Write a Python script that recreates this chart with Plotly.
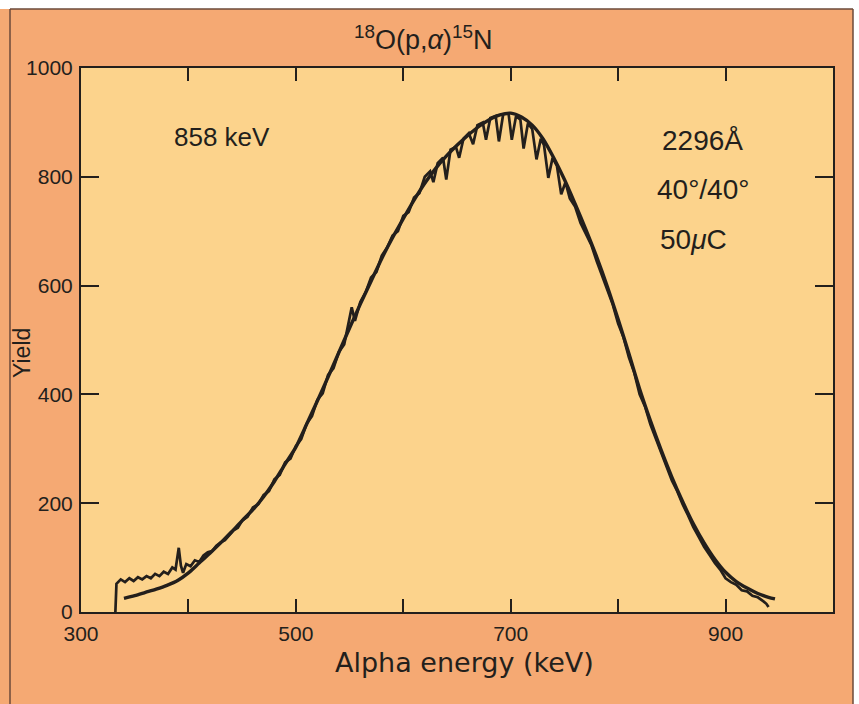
import plotly.graph_objects as go

# ---------------- data ----------------
fit_energy = [340, 350, 360, 370, 380, 390, 400, 410, 420, 430, 440, 450, 460, 470, 480,
              490, 500, 510, 520, 530, 540, 550, 560, 570, 580, 590, 600, 610, 620, 630,
              640, 650, 660, 670, 680, 690, 700, 710, 720, 730, 740, 750, 760, 770, 780,
              790, 800, 810, 820, 830, 840, 850, 860, 870, 880, 890, 900, 910, 920, 930,
              940, 946]
fit_yield = [25, 30, 36, 42, 49, 58, 72, 90, 108, 127, 147, 168, 188, 212, 240,
             272, 303, 345, 388, 432, 477, 522, 566, 608, 650, 688, 723, 757, 788, 815,
             838, 858, 876, 892, 905, 914, 917, 910, 895, 870, 835, 795, 750, 703, 653,
             598, 538, 475, 410, 352, 298, 248, 203, 162, 127, 97, 73, 56, 44, 34,
             27, 24]

data_energy = [332, 333, 337, 341, 345, 349, 353, 357, 361, 365, 369, 373, 377, 381, 385,
               388, 391, 393, 395, 398, 402, 406, 410, 414, 418, 422, 426, 430, 434, 438,
               442, 446, 450, 455, 460, 465, 470, 475, 480, 485, 490, 495, 500, 505, 510,
               515, 520, 525, 530, 535, 540, 545, 550, 552, 555, 560, 565, 570, 575, 580,
               585, 590, 595, 600, 605, 610, 615, 620, 625, 628, 632, 637, 640, 644, 649,
               652, 656, 661, 665, 669, 674, 677, 681, 686, 689, 693, 698, 701, 705, 709,
               712, 716, 720, 724, 728, 731, 735, 739, 743, 747, 751, 755, 760,
               765, 770, 775, 780, 785, 790, 795, 800, 805, 810, 815, 820, 825, 830, 835,
               840, 845, 850, 855, 860, 865, 870, 875, 880, 885, 890, 895, 900, 905, 910,
               915, 920, 925, 930, 935, 938, 940]
data_yield = [0, 52, 60, 55, 62, 57, 64, 60, 66, 62, 70, 66, 74, 70, 82,
              78, 118, 85, 72, 88, 84, 95, 92, 104, 110, 112, 122, 128, 132, 142,
              150, 155, 168, 175, 192, 198, 215, 222, 244, 252, 275, 282, 305, 318, 346,
              360, 390, 402, 436, 448, 478, 492, 540, 560, 535, 570, 588, 615, 625, 655,
              670, 692, 700, 728, 735, 762, 770, 800, 810, 790, 825, 835, 795, 850, 855,
              835, 870, 880, 860, 895, 900, 868, 908, 912, 865, 915, 916, 868, 912, 905,
              852, 898, 888, 832, 870, 858, 798, 835, 820, 768, 790, 760, 745,
              715, 695, 675, 645, 618, 590, 565, 530, 505, 468, 440, 400, 378, 345, 320,
              292, 268, 242, 222, 198, 178, 156, 138, 120, 105, 90, 78, 62, 55, 50,
              40, 38, 30, 27, 20, 15, 9]

x_tickvals = [300, 400, 500, 600, 700, 800, 900, 1000]
x_ticktext = ["300", "", "500", "", "700", "", "900", ""]
y_tickvals = [0, 200, 400, 600, 800, 1000]
y_ticktext = ["0", "200", "400", "600", "800", "1000"]

# ---------------- style ----------------
INK = "#231f1c"
PLOT_BG = "#fcd38c"
OUTER_BG = "#f5a973"
FONT = "Liberation Sans, Arial, Helvetica, sans-serif"

fig = go.Figure()
fig.add_trace(go.Scatter(x=data_energy, y=data_yield, mode="lines",
                         line=dict(color=INK, width=2.7), hoverinfo="skip",
                         showlegend=False))
fig.add_trace(go.Scatter(x=fit_energy, y=fit_yield, mode="lines",
                         line=dict(color=INK, width=3.4, shape="spline", smoothing=0.8),
                         hoverinfo="skip", showlegend=False))

axis_common = dict(showline=True, linecolor=INK, linewidth=2, mirror="ticks",
                   ticks="inside", tickcolor=INK, tickwidth=2, showgrid=False,
                   zeroline=False, tickfont=dict(family=FONT, size=21, color=INK))

fig.update_xaxes(range=[300, 1000], tickmode="array", tickvals=x_tickvals,
                 ticktext=x_ticktext, ticklen=13, ticklabelstandoff=2, **axis_common)
fig.update_yaxes(range=[0, 1000], tickmode="array", tickvals=y_tickvals,
                 ticktext=y_ticktext, ticklen=18, ticklabelstandoff=2, **axis_common)

L, R, T, B = 81, 26, 68, 92
W, H = 859, 704
pw, ph = W - L - R, H - T - B


def px_x(px):
    return (px - L) / pw


def px_y(py):
    return (H - B - py) / ph


annotations = [
    dict(text="<sup>18</sup>O(p,<i>α</i>)<sup>15</sup>N", x=px_x(423), y=px_y(38),
         font=dict(size=27)),
    dict(text="Alpha energy (keV)", x=px_x(464), y=px_y(662),
         font=dict(family="DejaVu Sans, sans-serif", size=27)),
    dict(text="Yield", x=px_x(22), y=px_y(353), textangle=-90, font=dict(size=23)),
    dict(text="858 keV", x=px_x(172), y=px_y(137), xanchor="left", font=dict(size=26)),
    dict(text="2296Å", x=px_x(660), y=px_y(140), xanchor="left", font=dict(size=28)),
    dict(text="40°/40°", x=px_x(655), y=px_y(189), xanchor="left", font=dict(size=28)),
    dict(text="50<i>μ</i>C", x=px_x(658), y=px_y(239), xanchor="left", font=dict(size=28)),
]
for a in annotations:
    a.setdefault("xref", "paper")
    a.setdefault("yref", "paper")
    a.setdefault("showarrow", False)
    a.setdefault("xanchor", "center")
    a.setdefault("yanchor", "middle")
    f = a["font"]
    f.setdefault("family", FONT)
    f.setdefault("color", INK)

shapes = [
    # white margin strips of the scanned page
    dict(type="rect", xref="paper", yref="paper", x0=px_x(-20), x1=px_x(880),
         y0=px_y(9), y1=px_y(-20), fillcolor="white", line_width=0, layer="above"),
    dict(type="rect", xref="paper", yref="paper", x0=px_x(853), x1=px_x(880),
         y0=px_y(730), y1=px_y(-20), fillcolor="white", line_width=0, layer="above"),
    # thin dark border of the panel
    dict(type="line", xref="paper", yref="paper", x0=px_x(10), x1=px_x(853),
         y0=px_y(9), y1=px_y(9), line=dict(color="#6b4a3a", width=1.5), layer="above"),
    dict(type="line", xref="paper", yref="paper", x0=px_x(10), x1=px_x(10),
         y0=px_y(9), y1=px_y(730), line=dict(color="#6b4a3a", width=1.5), layer="above"),
    dict(type="line", xref="paper", yref="paper", x0=px_x(853), x1=px_x(853),
         y0=px_y(9), y1=px_y(730), line=dict(color="#6b4a3a", width=1.5), layer="above"),
]

fig.update_layout(width=W, height=H, margin=dict(l=L, r=R, t=T, b=B, pad=0),
                  paper_bgcolor=OUTER_BG, plot_bgcolor=PLOT_BG,
                  annotations=annotations, shapes=shapes, showlegend=False,
                  font=dict(family=FONT, color=INK))

fig.write_html("out.html",
               config={"displayModeBar": False, "displaylogo": False},
               post_script="document.body.style.margin='0';"
                           "document.body.style.overflow='hidden';")
